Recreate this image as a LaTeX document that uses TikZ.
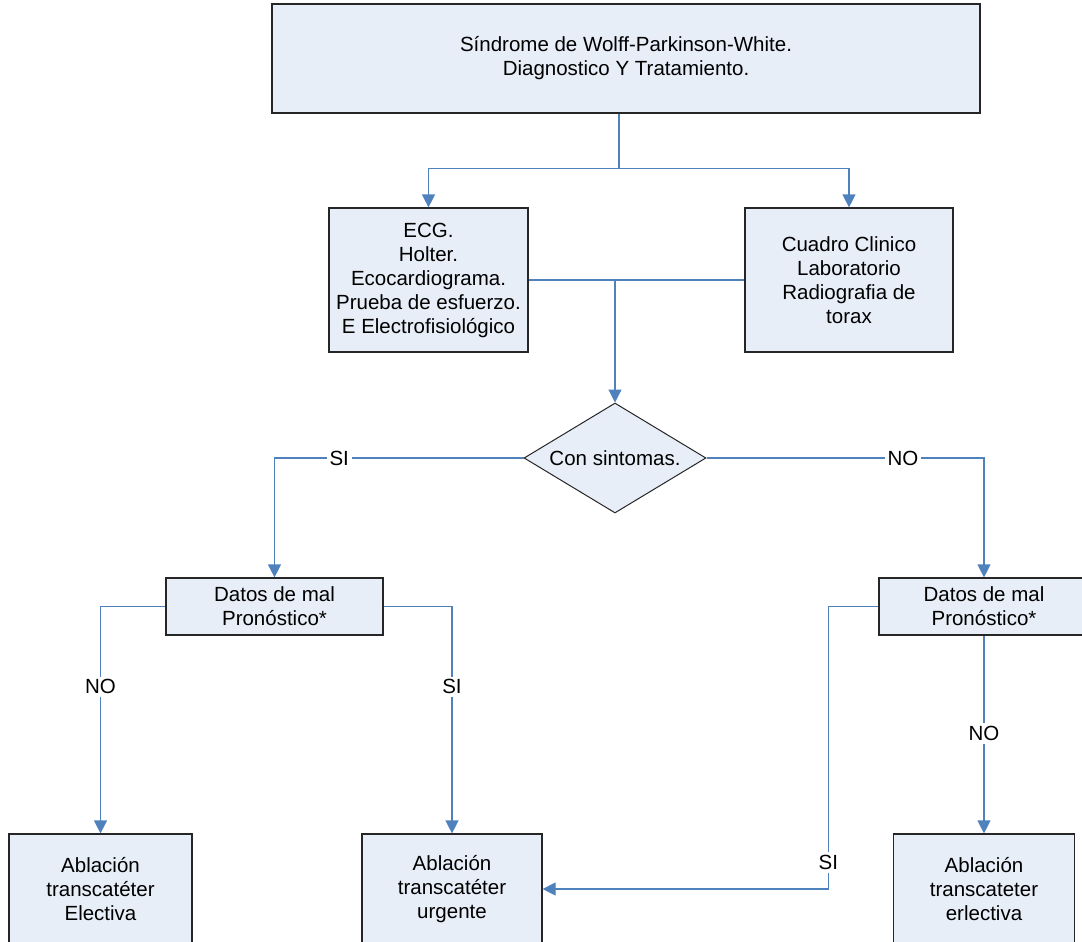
\documentclass[tikz,border=0pt]{standalone}
\usepackage{fontspec}
\setmainfont{Liberation Sans}
\usetikzlibrary{arrows.meta,positioning,shapes.geometric}
\definecolor{boxfill}{RGB}{232,238,247}
\definecolor{boxdraw}{RGB}{38,38,38}
\definecolor{linkblue}{RGB}{79,129,189}

\begin{document}
\begin{tikzpicture}
        [x=1pt, y=-1pt,
        on grid,
        >={Triangle[length=13pt,width=13pt]},
        every node/.style={font=\fontsize{20.5}{24}\selectfont},
        box/.style={rectangle, draw=boxdraw, line width=1.2pt, fill=boxfill, align=center, inner sep=0pt},
        ask/.style={diamond, aspect=1.65, draw=boxdraw, line width=1pt, fill=boxfill, inner sep=0pt, minimum width=182pt, minimum height=110pt},
        link/.style={draw=linkblue, line width=1.2pt},
        flow/.style={link, ->},
        answer/.style={fill=white, inner sep=3pt}]

        \useasboundingbox (0,0) rectangle (1082,942);
        \clip (0,0) rectangle (1082,942);

        \node[box, minimum width=708pt, minimum height=109pt] (wpw) at (626,58.5)
                {Síndrome de Wolff-Parkinson-White.\\Diagnostico Y Tratamiento.};
        \node[box, minimum width=199pt, minimum height=144pt] (ecg) [below left=221.5pt and 197.5pt of wpw]
                {ECG.\\Holter.\\Ecocardiograma.\\Prueba de esfuerzo.\\E Electrofisiológico};
        \node[box, minimum width=208pt, minimum height=144pt] (clinic) [below right=221.5pt and 223pt of wpw]
                {Cuadro Clinico\\Laboratorio\\Radiografia de\\torax};
        \node[ask] (sint) [below left=399.5pt and 11pt of wpw] {Con sintomas.};

        \node[box, minimum width=217pt, minimum height=57pt] (badL) [below left=148.5pt and 340.5pt of sint]
                {Datos de mal\\Pronóstico*};
        \node[box, minimum width=210pt, minimum height=57pt] (badR) [below right=148.5pt and 369pt of sint]
                {Datos de mal\\Pronóstico*};

        \node[box, minimum width=183pt, minimum height=110pt] (elect) [below left=282.5pt and 174pt of badL]
                {Ablación\\transcatéter\\Electiva};
        \node[box, minimum width=180pt, minimum height=110pt] (urg) [below right=282.5pt and 177.5pt of badL]
                {Ablación\\transcatéter\\urgente};
        \node[box, minimum width=181pt, minimum height=110pt] (erl) [below=282.5pt of badR]
                {Ablación\\transcateter\\erlectiva};

        \draw[flow] ([xshift=-7pt]wpw.south) -- ++(0,55) -| (ecg.north);
        \draw[flow] ([xshift=-7pt]wpw.south) -- ++(0,55) -| (clinic.north);
        \draw[link] (ecg.east) -- (clinic.west);
        \draw[flow] (ecg.east -| sint.north) -- (sint.north);

        \draw[flow] (sint.west) -| node[answer, pos=0.37] {SI} (badL.north);
        \draw[flow] (sint.east) -| node[answer, pos=0.354] {NO} (badR.north);

        \draw[flow] (badL.west) -| node[answer, pos=0.677] {NO} (elect.north);
        \draw[flow] (badL.east) -| node[answer, pos=0.677] {SI} (urg.north);
        \draw[flow] (badR.west) -- ++(-50,0) |- node[answer, pos=0.453] {SI} (urg.east);
        \draw[flow] (badR.south) -- node[answer, pos=0.495] {NO} (erl.north);
\end{tikzpicture}
\end{document}
